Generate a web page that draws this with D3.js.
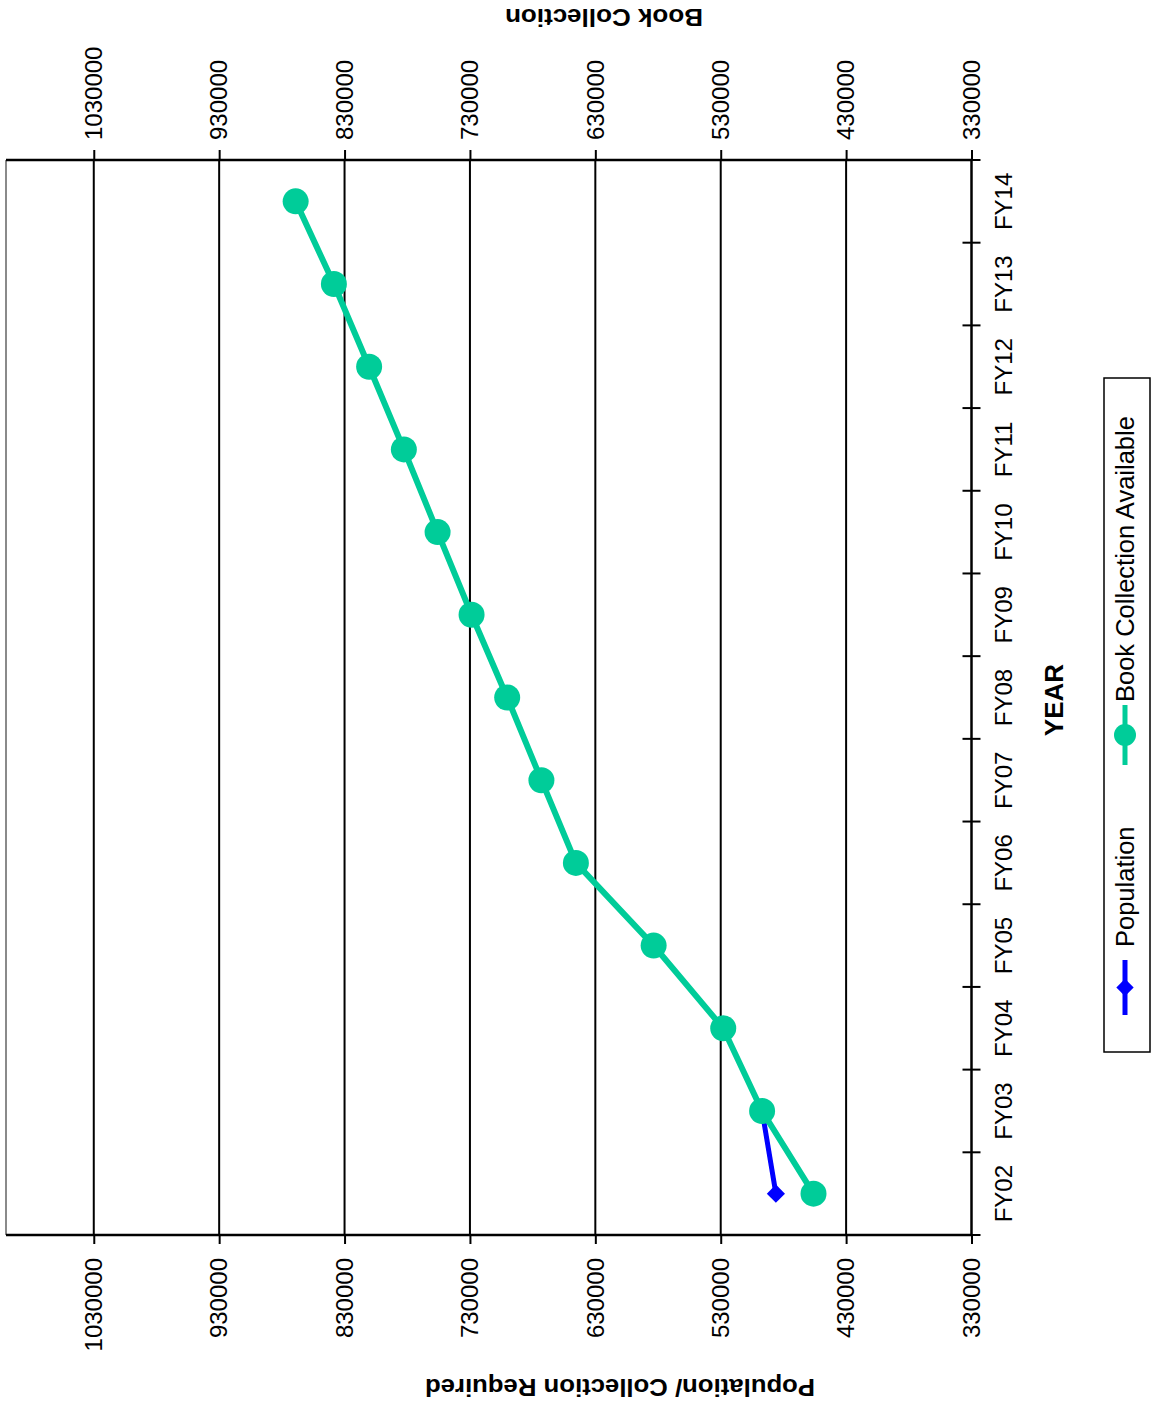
<!DOCTYPE html>
<html>
<head>
<meta charset="utf-8">
<script src="https://cdn.jsdelivr.net/npm/d3@7"></script>
<style>
  html, body { margin: 0; padding: 0; background: #fff; }
  svg { display: block; }
  text { font-family: "Liberation Sans", Arial, sans-serif; fill: #000; }
</style>
</head>
<body>
<svg id="chart" width="1151" height="1407"></svg>
<script>
// Fiscal years on the category axis
const categories = ["FY02","FY03","FY04","FY05","FY06","FY07","FY08","FY09","FY10","FY11","FY12","FY13","FY14"];
// Population / collection required (only reported for the first two years)
const population = [486000, 497000, null, null, null, null, null, null, null, null, null, null, null];
// Book collection available
const bookCollection = [456000, 497000, 528000, 583500, 645500, 673000, 700300, 728700, 755800, 782700, 810400, 838500, 869000];
// Value-axis ticks
const valueTicks = [330000, 430000, 530000, 630000, 730000, 830000, 930000, 1030000];
const seriesNames = ["Population", "Book Collection Available"];

const W = 1151, H = 1407;
const svg = d3.select("#chart");

// The chart is laid out landscape (H wide, W tall) and turned a quarter turn.
const g = svg.append("g").attr("transform", `translate(0,${H}) rotate(-90)`);

const plot = { left: 172, right: 1247, top: 6, bottom: 971.5 };

const x = d3.scaleBand().domain(categories).range([plot.left, plot.right]).padding(0);
const y = d3.scaleLinear().domain([330000, 1100000]).range([plot.bottom, plot.top]);
const cx = c => x(c) + x.bandwidth() / 2;

// Gridlines
g.append("g").selectAll("line")
  .data(valueTicks.filter(v => v > 330000))
  .join("line")
  .attr("x1", plot.left).attr("x2", plot.right)
  .attr("y1", d => y(d)).attr("y2", d => y(d))
  .attr("stroke", "#000").attr("stroke-width", 2);

// Top border of plot area
g.append("line")
  .attr("x1", plot.left).attr("x2", plot.right)
  .attr("y1", plot.top).attr("y2", plot.top)
  .attr("stroke", "#8a8a8a").attr("stroke-width", 2);

const fmt = d3.format("d");

// Left value axis
const leftAxis = g.append("g")
  .attr("transform", `translate(${plot.left},0)`)
  .call(d3.axisLeft(y).tickValues(valueTicks).tickFormat(fmt).tickSize(9).tickSizeOuter(0).tickPadding(14));

// Right value axis
const rightAxis = g.append("g")
  .attr("transform", `translate(${plot.right},0)`)
  .call(d3.axisRight(y).tickValues(valueTicks).tickFormat(fmt).tickSize(10).tickSizeOuter(0).tickPadding(10));

[leftAxis, rightAxis].forEach(a => {
  a.select(".domain").attr("stroke", "#000").attr("stroke-width", 2.5)
    .attr("d", `M0,${plot.top}V${plot.bottom}`);
  a.selectAll(".tick line").attr("stroke", "#000").attr("stroke-width", 2);
  a.selectAll(".tick text").attr("font-size", 24)
    .attr("font-family", "'Liberation Sans', Arial, sans-serif");
});

// Category axis with crossing tick marks at band edges
const catAxis = g.append("g");
catAxis.append("line")
  .attr("x1", plot.left).attr("x2", plot.right)
  .attr("y1", plot.bottom).attr("y2", plot.bottom)
  .attr("stroke", "#000").attr("stroke-width", 2.5);
const edges = categories.map(c => x(c)).concat([plot.right]);
catAxis.selectAll("line.edge")
  .data(edges)
  .join("line").attr("class", "edge")
  .attr("x1", d => d).attr("x2", d => d)
  .attr("y1", plot.bottom - 9).attr("y2", plot.bottom + 9)
  .attr("stroke", "#000").attr("stroke-width", 2);
catAxis.selectAll("text")
  .data(categories)
  .join("text")
  .attr("x", d => cx(d)).attr("y", 1012)
  .attr("text-anchor", "middle")
  .attr("font-size", 24)
  .text(d => d);

// Series lines
const line = d3.line()
  .defined(d => d.v != null)
  .x(d => cx(d.c)).y(d => y(d.v));

const popData = categories.map((c, i) => ({ c, v: population[i] }));
const bookData = categories.map((c, i) => ({ c, v: bookCollection[i] }));

const diamond = d3.symbol().type(d3.symbolSquare).size(165);

g.append("path").datum(popData)
  .attr("d", line).attr("fill", "none")
  .attr("stroke", "#0000FF").attr("stroke-width", 5);
g.append("g").selectAll("path")
  .data(popData.filter(d => d.v != null))
  .join("path")
  .attr("d", diamond)
  .attr("transform", d => `translate(${cx(d.c)},${y(d.v)}) rotate(45)`)
  .attr("fill", "#0000FF");

g.append("path").datum(bookData)
  .attr("d", line).attr("fill", "none")
  .attr("stroke", "#00CC99").attr("stroke-width", 6);
g.append("g").selectAll("circle")
  .data(bookData)
  .join("circle")
  .attr("cx", d => cx(d.c)).attr("cy", d => y(d.v))
  .attr("r", 13).attr("fill", "#00CC99");

// Axis titles
g.append("text")
  .attr("transform", `translate(20,620) rotate(-90)`)
  .attr("text-anchor", "middle").attr("dominant-baseline", "central")
  .attr("font-size", 24).attr("font-weight", "bold")
  .attr("textLength", 390).attr("lengthAdjust", "spacingAndGlyphs")
  .text("Population/ Collection Required");

g.append("text")
  .attr("transform", `translate(1390,604) rotate(-90)`)
  .attr("text-anchor", "middle").attr("dominant-baseline", "central")
  .attr("font-size", 24).attr("font-weight", "bold")
  .attr("textLength", 198).attr("lengthAdjust", "spacingAndGlyphs")
  .text("Book Collection");

g.append("text")
  .attr("x", 707).attr("y", 1063)
  .attr("text-anchor", "middle")
  .attr("font-size", 26).attr("font-weight", "bold")
  .text("YEAR");

// Legend
const legend = g.append("g");
legend.append("rect")
  .attr("x", 355).attr("y", 1104).attr("width", 674).attr("height", 46)
  .attr("fill", "#fff").attr("stroke", "#000").attr("stroke-width", 1.5);

const legendItems = [
  { name: seriesNames[0], color: "#0000FF", x0: 392, x1: 447, text: 460, mark: "diamond" },
  { name: seriesNames[1], color: "#00CC99", x0: 642, x1: 702, text: 705, mark: "circle" }
];
legendItems.forEach(it => {
  legend.append("line")
    .attr("x1", it.x0).attr("x2", it.x1).attr("y1", 1125).attr("y2", 1125)
    .attr("stroke", it.color).attr("stroke-width", 5);
  const mx = (it.x0 + it.x1) / 2;
  if (it.mark === "diamond") {
    legend.append("path")
      .attr("d", d3.symbol().type(d3.symbolSquare).size(150))
      .attr("transform", `translate(${mx},1125) rotate(45)`)
      .attr("fill", it.color);
  } else {
    legend.append("circle").attr("cx", mx).attr("cy", 1125).attr("r", 11).attr("fill", it.color);
  }
  legend.append("text")
    .attr("x", it.text).attr("y", 1134)
    .attr("font-size", 25.5)
    .text(it.name);
});
</script>
</body>
</html>
